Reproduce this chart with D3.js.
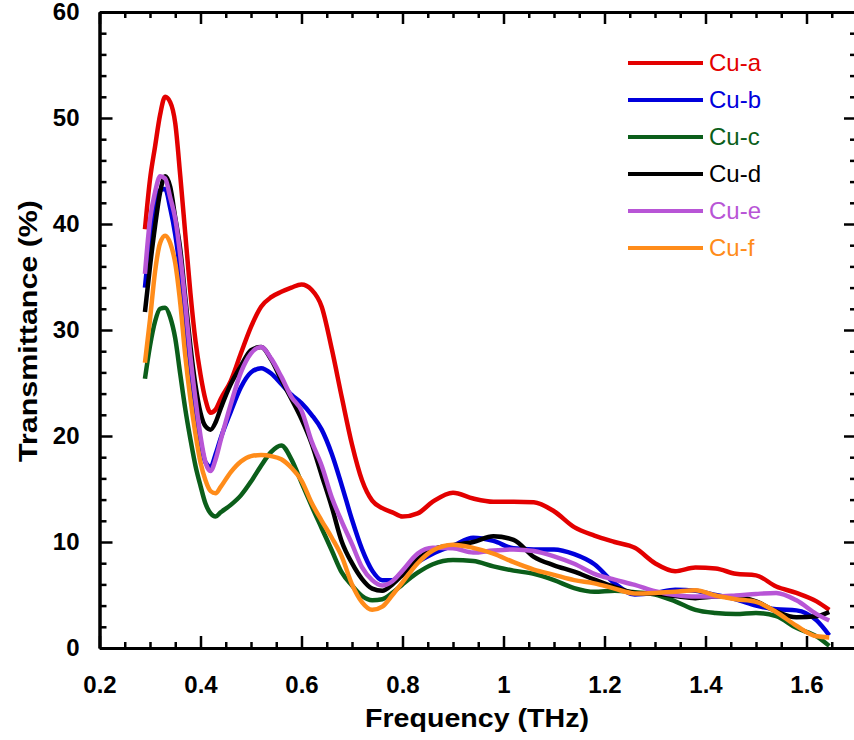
<!DOCTYPE html>
<html>
<head>
<meta charset="utf-8">
<title>Transmittance</title>
<script src="https://d3js.org/d3.v7.min.js"></script>
<style>
  body { margin: 0; background: #fff; }
  .axis path, .axis line { stroke: #000; }
  .axis text { font-family: "Liberation Sans", Arial, sans-serif; font-weight: bold; font-size: 24px; fill: #000; }
</style>
</head>
<body>
<div id="chartDiv"></div>
<script>
// frequency grid (THz)
var freq = [0.29, 0.30, 0.31, 0.32, 0.33, 0.34, 0.35, 0.36, 0.37, 0.38, 0.39, 0.40, 0.41, 0.42, 0.43, 0.44,
  0.46, 0.48, 0.50, 0.52, 0.54, 0.56, 0.58, 0.60, 0.62, 0.64, 0.66, 0.68, 0.70, 0.72, 0.74, 0.76, 0.78, 0.80,
  0.83, 0.86, 0.90, 0.94, 0.98, 1.02, 1.06, 1.10, 1.14, 1.18, 1.22, 1.26, 1.30, 1.34, 1.38, 1.42, 1.46, 1.50,
  1.54, 1.58, 1.62, 1.645];

// transmittance (%) per sample
var cuA = [39.5, 44.2, 47.3, 50.3, 52.0, 51.5, 49.5, 44.5, 39.0, 33.5, 29.0, 25.8, 23.4, 22.2, 22.5, 23.5,
  25.2, 27.8, 30.3, 32.2, 33.1, 33.6, 34.0, 34.3, 33.8, 32.2, 28.2, 23.6, 19.2, 15.8, 13.9, 13.2, 12.8, 12.4,
  12.7, 13.8, 14.65, 14.1, 13.8, 13.8, 13.75, 12.9, 11.4, 10.6, 10.0, 9.45, 8.0, 7.25, 7.6, 7.5, 7.0, 6.85,
  5.8, 5.2, 4.4, 3.6];
var cuB = [34.0, 38.5, 41.5, 43.2, 43.3, 41.5, 39.0, 35.5, 31.0, 26.5, 22.7, 19.5, 17.5, 17.1, 18.3, 19.8,
  22.3, 24.6, 26.0, 26.4, 25.9, 24.9, 23.9, 23.1, 22.0, 20.6, 18.3, 15.3, 12.1, 9.3, 7.3, 6.4, 6.4, 7.1,
  8.1, 8.9, 9.65, 10.4, 10.1, 9.4, 9.3, 9.3, 8.85, 7.9, 6.1, 5.05, 5.2, 5.5, 5.4, 5.0, 4.6, 4.0,
  3.65, 3.55, 2.6, 1.2];
var cuC = [25.4, 28.5, 30.8, 32.0, 32.1, 31.2, 29.2, 25.8, 22.5, 19.7, 17.2, 15.3, 13.6, 12.7, 12.4, 12.8,
  13.5, 14.4, 15.7, 17.2, 18.5, 19.1, 17.8, 15.6, 13.4, 11.3, 9.2, 7.1, 5.9, 4.9, 4.5, 4.6, 5.2, 6.0,
  7.1, 7.9, 8.3, 8.2, 7.7, 7.3, 7.0, 6.4, 5.65, 5.3, 5.4, 5.25, 5.05, 4.4, 3.6, 3.3, 3.2, 3.3,
  3.0, 1.9, 1.1, 0.2];
var cuD = [31.7, 36.0, 39.8, 43.0, 44.5, 43.5, 40.6, 37.6, 33.0, 28.5, 24.8, 22.2, 20.9, 20.6, 21.3, 22.6,
  24.9, 26.6, 28.1, 28.4, 27.2, 25.3, 23.5, 21.6, 19.3, 16.3, 13.3, 10.0, 8.0, 6.5, 5.6, 5.4, 6.0, 6.9,
  8.4, 9.3, 9.7, 10.0, 10.55, 10.2, 8.6, 7.8, 7.2, 6.45, 5.75, 5.2, 5.15, 4.9, 4.7, 4.85, 4.8, 4.4,
  3.45, 2.9, 3.0, 3.4];
var cuE = [35.3, 40.4, 43.0, 44.5, 44.3, 42.5, 40.5, 37.0, 32.5, 27.5, 23.5, 20.0, 17.5, 16.7, 17.8, 19.6,
  23.0, 26.0, 27.8, 28.4, 27.3, 25.6, 23.7, 22.4, 19.5, 17.2, 14.2, 11.9, 9.8, 7.6, 6.4, 5.9, 6.3, 7.3,
  8.9, 9.45, 9.4, 9.0, 9.2, 9.3, 9.15, 8.65, 7.95, 7.0, 6.45, 5.95, 5.35, 5.0, 4.85, 4.85, 4.95, 5.1,
  5.2, 4.5, 3.2, 2.6];
var cuF = [26.9, 31.0, 35.5, 38.2, 38.9, 38.2, 36.3, 32.5, 27.5, 23.5, 20.2, 17.5, 15.8, 14.8, 14.6, 15.2,
  16.6, 17.6, 18.1, 18.2, 18.1, 17.8, 17.0, 15.8, 13.7, 12.0, 10.4, 8.6, 6.0, 4.3, 3.6, 3.9, 5.0, 6.2,
  8.0, 9.2, 9.75, 9.45, 8.9, 8.1, 7.4, 6.9, 6.4, 6.1, 5.6, 5.15, 5.2, 5.3, 5.45, 4.95, 4.6, 4.35,
  3.4, 2.1, 1.1, 1.0];

var seriesNames = ["Cu-a", "Cu-b", "Cu-c", "Cu-d", "Cu-e", "Cu-f"];
var seriesValues = [cuA, cuB, cuC, cuD, cuE, cuF];
var seriesColors = ["#e30000", "#0000dc", "#0b5e1a", "#000000", "#b855d6", "#ff8c1a"];

var xTicks = [0.2, 0.4, 0.6, 0.8, 1.0, 1.2, 1.4, 1.6];
var yTicks = [0, 10, 20, 30, 40, 50, 60];

// size and margins
var totalW = 854, totalH = 740;
var margin = {top: 12, left: 99.5};
var width = 757.5;   // 0.2 .. 1.7 THz, right frame sits just past the picture edge
var height = 636;

var svg = d3.select('#chartDiv')
  .append('svg')
  .attr('width', totalW)
  .attr('height', totalH);

var main = svg.append('g')
  .attr('transform', 'translate(' + margin.left + ',' + margin.top + ')');

var x = d3.scaleLinear().domain([0.2, 1.7]).range([0, width]);
var y = d3.scaleLinear().domain([0, 60]).range([height, 0]);

var xMinor = d3.range(0.25, 1.7, 0.05).map(function(d) { return +d.toFixed(2); })
  .filter(function(d) { return xTicks.indexOf(d) < 0; });
var yMinor = d3.range(2, 60, 2).filter(function(d) { return d % 10 !== 0; });

function fmtX(d) { return d === 1 ? "1" : d3.format(".1f")(d); }

// major axes with inward ticks
main.append('g').attr('class', 'axis')
  .attr('transform', 'translate(0,' + height + ')')
  .call(d3.axisBottom(x).tickValues(xTicks).tickSize(-12).tickSizeOuter(0).tickPadding(28).tickFormat(fmtX));
main.append('g').attr('class', 'axis')
  .call(d3.axisTop(x).tickValues(xTicks).tickSize(-12).tickSizeOuter(0).tickFormat(''));
main.append('g').attr('class', 'axis')
  .call(d3.axisLeft(y).tickValues(yTicks).tickSize(-13).tickSizeOuter(0).tickPadding(20));
main.append('g').attr('class', 'axis')
  .attr('transform', 'translate(' + width + ',0)')
  .call(d3.axisRight(y).tickValues(yTicks).tickSize(-13).tickSizeOuter(0).tickFormat(''));

// minor ticks
main.append('g').attr('class', 'axis minor')
  .attr('transform', 'translate(0,' + height + ')')
  .call(d3.axisBottom(x).tickValues(xMinor).tickSize(-6).tickSizeOuter(0).tickFormat(''));
main.append('g').attr('class', 'axis minor')
  .call(d3.axisTop(x).tickValues(xMinor).tickSize(-6).tickSizeOuter(0).tickFormat(''));
main.append('g').attr('class', 'axis minor')
  .call(d3.axisLeft(y).tickValues(yMinor).tickSize(-7).tickSizeOuter(0).tickFormat(''));
main.append('g').attr('class', 'axis minor')
  .attr('transform', 'translate(' + width + ',0)')
  .call(d3.axisRight(y).tickValues(yMinor).tickSize(-7).tickSizeOuter(0).tickFormat(''));

main.selectAll('.axis path').attr('stroke-width', 3);
main.selectAll('.axis line').attr('stroke-width', 2.5);

// curves
var line = d3.line()
  .x(function(d) { return x(d[0]); })
  .y(function(d) { return y(d[1]); })
  .curve(d3.curveMonotoneX);

seriesValues.forEach(function(vals, i) {
  var pts = freq.map(function(f, j) { return [f, vals[j]]; });
  main.append('path')
    .datum(pts)
    .attr('fill', 'none')
    .attr('stroke', seriesColors[i])
    .attr('stroke-width', 4.5)
    .attr('stroke-linejoin', 'round')
    .attr('d', line);
});

// legend
var legend = svg.append('g').attr('transform', 'translate(628,63)');
seriesNames.forEach(function(name, i) {
  var gy = i * 37;
  legend.append('line')
    .attr('x1', 0).attr('x2', 75)
    .attr('y1', gy).attr('y2', gy)
    .attr('stroke', seriesColors[i])
    .attr('stroke-width', 4);
  legend.append('text')
    .attr('x', 81).attr('y', gy)
    .attr('dy', '0.35em')
    .style('font-family', '"Liberation Sans", Arial, sans-serif')
    .style('font-size', '24px')
    .style('fill', seriesColors[i])
    .text(name);
});

// axis titles
svg.append('text')
  .attr('x', 477).attr('y', 727)
  .style('text-anchor', 'middle')
  .style('font-family', '"Liberation Sans", Arial, sans-serif')
  .style('font-weight', 'bold')
  .style('font-size', '26px')
  .attr('textLength', 224)
  .attr('lengthAdjust', 'spacingAndGlyphs')
  .text('Frequency (THz)');

svg.append('text')
  .attr('transform', 'translate(37,331) rotate(-90)')
  .style('text-anchor', 'middle')
  .style('font-family', '"Liberation Sans", Arial, sans-serif')
  .style('font-weight', 'bold')
  .style('font-size', '26px')
  .attr('textLength', 262)
  .attr('lengthAdjust', 'spacingAndGlyphs')
  .text('Transmittance (%)');
</script>
</body>
</html>
